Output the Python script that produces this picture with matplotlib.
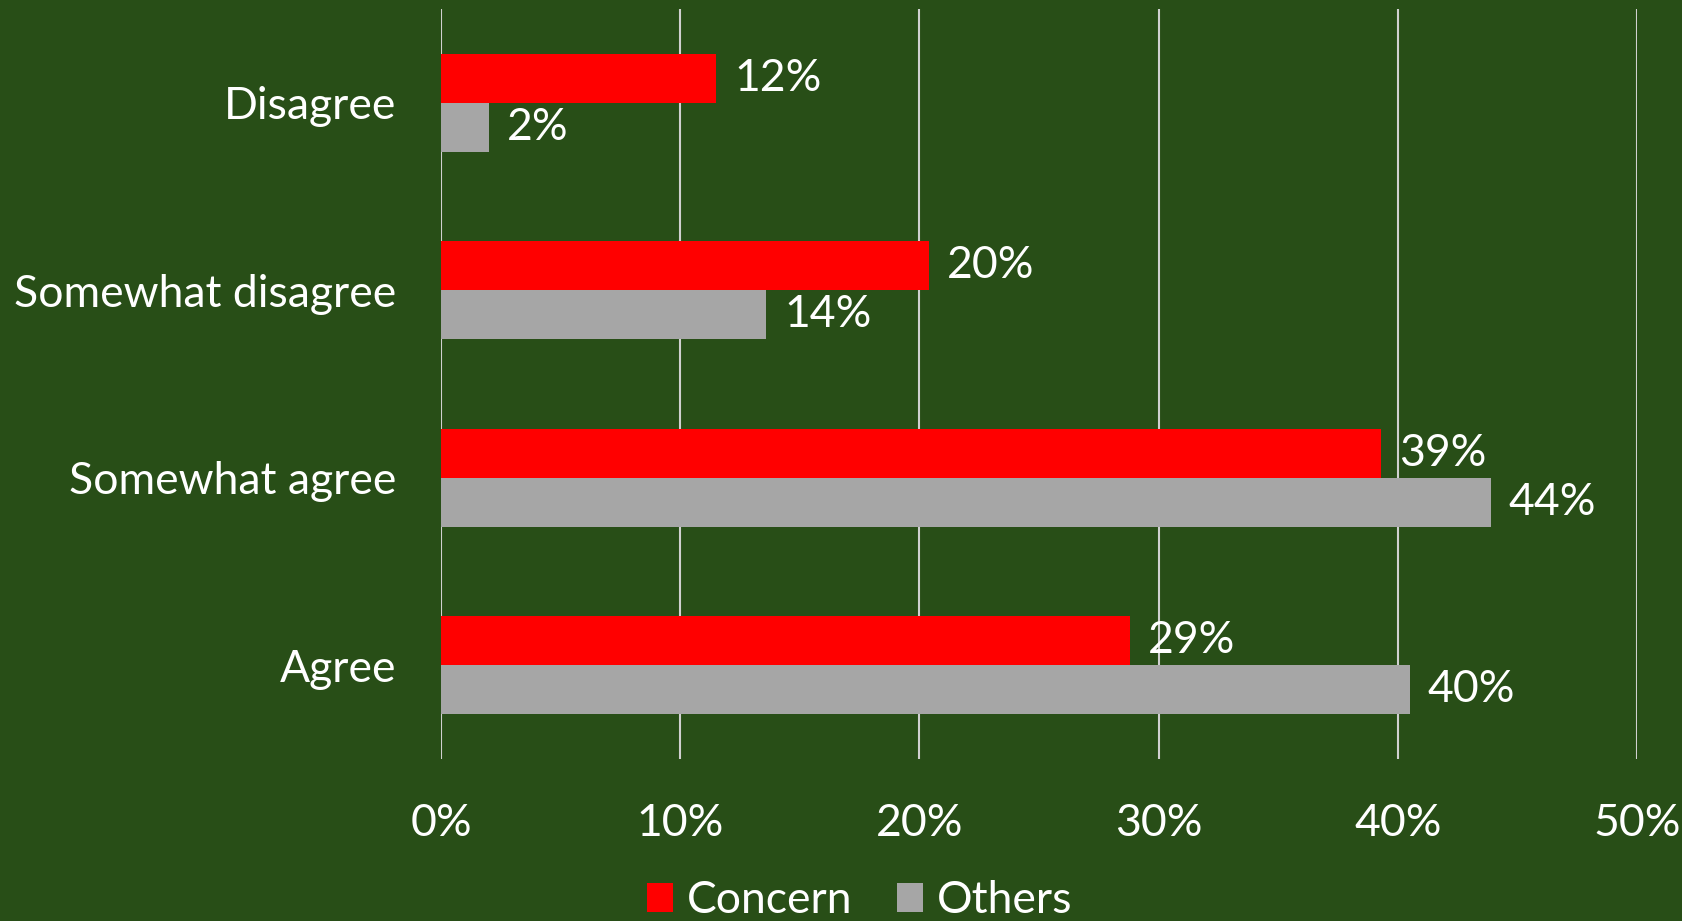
import numpy as np
import matplotlib
matplotlib.use("Agg")
import matplotlib.pyplot as plt
from matplotlib.patches import Patch

# ------------------------------------------------------------
# data (percent)
# ------------------------------------------------------------
categories = ["Disagree", "Somewhat disagree", "Somewhat agree", "Agree"]
concern = [11.5, 20.4, 39.3, 28.8]
others = [2.0, 13.6, 43.9, 40.5]
series_names = ["Concern", "Others"]
xticks = [0, 10, 20, 30, 40, 50]

# ------------------------------------------------------------
# style
# ------------------------------------------------------------
BG = "#284E17"
RED = "#FF0000"
GREY = "#A6A6A6"
GRID = "#D0D0D0"
FS = 32

plt.rcParams["font.family"] = ["Lato", "DejaVu Sans"]

fig = plt.figure(figsize=(16.82, 9.21), dpi=100, facecolor=BG)
ax = fig.add_axes([0.2622, 0.176, 0.711, 0.814])
ax.set_facecolor(BG)

y = np.arange(len(categories))
h = 0.261

b1 = ax.barh(y - h / 2, concern, height=h, color=RED, zorder=3)
b2 = ax.barh(y + h / 2, others, height=h, color=GREY, zorder=3)

for bars, vals in ((b1, concern), (b2, others)):
    for bar, v in zip(bars, vals):
        ax.text(v + 0.75, bar.get_y() + bar.get_height() / 2, f"{v:.0f}%",
                color="white", fontsize=FS, va="center", ha="left", zorder=4)

ax.set_xlim(0, 50)
ax.set_ylim(len(categories) - 0.5, -0.5)
ax.set_xticks(xticks)
ax.set_xticklabels([f"{t}%" for t in xticks])
ax.set_yticks(y)
ax.set_yticklabels(categories)

ax.tick_params(axis="x", colors="white", labelsize=FS, length=0, pad=32)
ax.tick_params(axis="y", colors="white", labelsize=FS, length=0, pad=32)

for s in ax.spines.values():
    s.set_visible(False)
for t in xticks:
    ax.axvline(t, color=GRID, lw=1.5, zorder=1)

handles = [Patch(facecolor=RED, label=series_names[0]),
           Patch(facecolor=GREY, label=series_names[1])]
leg = fig.legend(handles=handles, loc="center", bbox_to_anchor=(0.511, 0.022),
                 ncol=2, frameon=False, fontsize=FS, handlelength=0.6,
                 handleheight=0.6, handletextpad=0.3, columnspacing=1.0,
                 labelcolor="white")

fig.savefig("out.png", dpi=100, facecolor=BG)
